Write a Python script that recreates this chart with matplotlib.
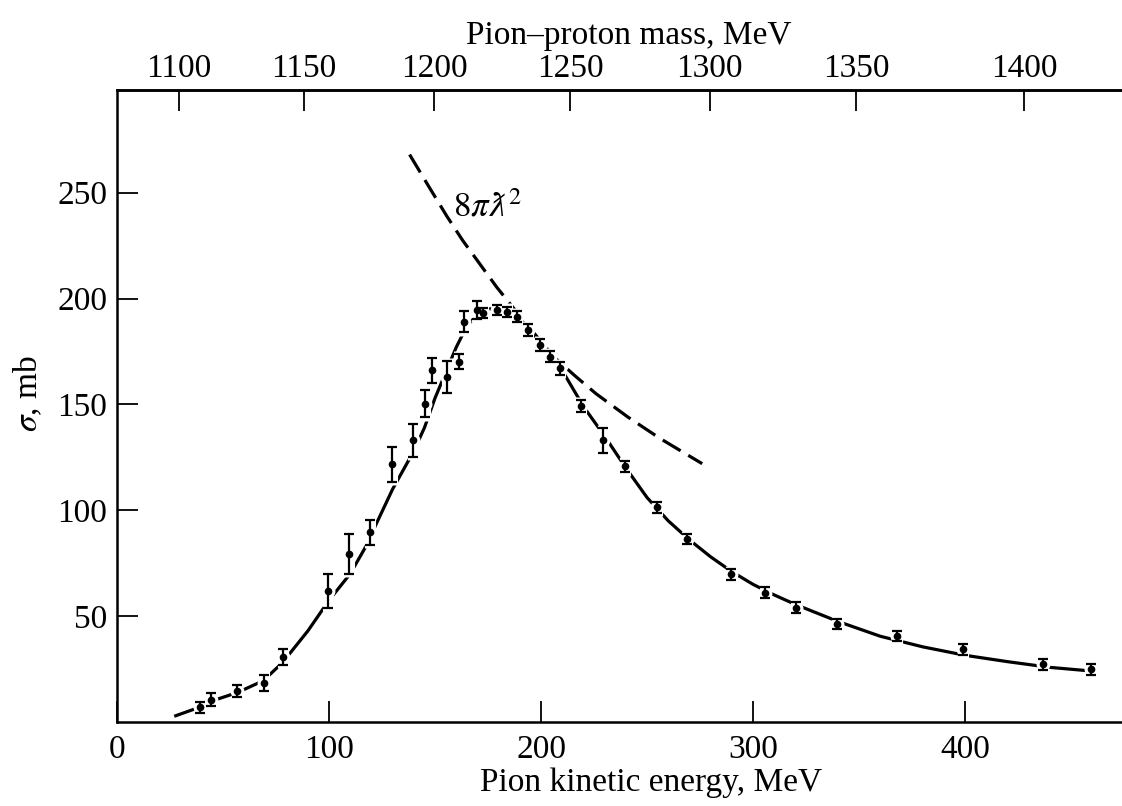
import numpy as np
import matplotlib
matplotlib.use('Agg')
import matplotlib.pyplot as plt
from matplotlib.mathtext import MathTextParser

plt.rcParams['font.family'] = ['Liberation Serif', 'DejaVu Serif']
plt.rcParams['mathtext.fontset'] = 'stix'

# measured points: pion kinetic energy (MeV), cross section (mb), error (mb)
T_data = [39.2, 44.3, 56.8, 69.3, 78.1, 99.7, 109.6, 119.3, 129.9, 139.8,
          145.5, 148.7, 155.5, 161.3, 163.7, 169.7, 172.8, 179.1, 183.8, 188.5,
          194.0, 199.5, 204.2, 209.0, 218.8, 229.1, 239.6, 254.6, 269.0, 289.6,
          305.7, 320.1, 339.8, 367.8, 399.2, 436.6, 459.4]
sigma_data = [7.0, 10.6, 14.8, 18.5, 30.6, 61.9, 79.3, 89.6, 121.7, 133.0,
              150.4, 166.2, 163.0, 170.1, 189.1, 194.6, 193.0, 194.6, 193.8, 191.5,
              185.2, 178.1, 172.5, 167.0, 149.2, 133.0, 120.7, 101.4, 86.4, 69.8,
              61.1, 54.0, 46.2, 40.6, 34.3, 27.2, 24.8]
sigma_err = [2.6, 3.2, 2.8, 3.9, 3.7, 7.9, 9.5, 5.9, 8.3, 7.9,
             6.5, 5.9, 7.5, 3.6, 5.1, 4.3, 2.4, 2.4, 2.4, 2.5,
             2.8, 2.8, 2.5, 3.0, 3.0, 5.8, 2.8, 2.5, 2.5, 2.5,
             2.5, 2.5, 2.5, 2.5, 2.5, 2.5, 2.5]

# smooth curve through the data
curve_T = [27, 39, 45, 57, 69, 78, 90, 100, 110, 118, 122, 130, 140, 145, 150,
           155, 160, 165, 170, 175, 180, 185, 190, 195, 200, 210, 220, 230, 240,
           250, 260, 270, 280, 290, 300, 310, 320, 330, 340, 360, 380, 400, 420,
           440, 457]
curve_sigma = [2.7, 7, 10, 14, 19.5, 28, 43, 57.5, 70, 84, 93, 110, 128, 139, 153,
               165, 177, 187, 192.5, 195, 195.5, 194, 190.5, 185, 179, 166, 149, 135, 120,
               106, 95, 86, 78, 71, 65, 60, 55.5, 51.5, 47.5, 40.5, 35.5, 31.5, 28.5,
               25.8, 24.3]

# 8 pi lambda-bar^2 curve (dashed)
unit_T = [138, 147, 155.5, 163, 171, 179, 187, 196, 206, 216, 226, 241, 256, 266, 276]
unit_sigma = [268, 253, 239, 227.5, 216.5, 205.5, 195.5, 184.5, 172.5, 163.5, 155,
              144, 134, 128, 122]

# top axis: pion-proton mass ticks and where they sit on the energy scale
mass_labels = [1100, 1150, 1200, 1250, 1300, 1350, 1400]
mass_pos_T = [29.2, 88.2, 149.5, 213.7, 279.5, 348.6, 427.8]

fig = plt.figure(figsize=(11.22, 8.06), dpi=100)
ax = fig.add_axes([117 / 1122, 1 - 722 / 806, 1 - 117 / 1122, (722 - 90) / 806])

ax.plot(curve_T, curve_sigma, color='black', lw=2.3, solid_capstyle='butt', zorder=2)
ax.plot(unit_T, unit_sigma, color='black', lw=2.3, dashes=(6.5, 2.8), zorder=2)

# white halo so the curve looks broken at each point
ax.errorbar(T_data, sigma_data, yerr=np.array(sigma_err) + 1.5, fmt='o', ms=9,
            color='white', ecolor='white', elinewidth=8, capsize=0, zorder=2.5)
ax.errorbar(T_data, sigma_data, yerr=sigma_err, fmt='o', ms=4.5, color='black',
            ecolor='black', elinewidth=1.6, capsize=3.3, capthick=1.6, zorder=3)

label = r'$8\pi\lambdabar^{2}$'
try:
    MathTextParser('path').parse(label)
except Exception:
    label = r'$8\pi$ƛ$^{2}$'
ax.text(175, 243, label, fontsize=25, ha='center', va='center')

ax.set_xlim(0, 474)
ax.set_ylim(0, 298.5)
ax.set_xticks([0, 100, 200, 300, 400])
ax.set_yticks([50, 100, 150, 200, 250])
ax.tick_params(direction='in', length=15, width=1.3, labelsize=24, pad=9)
ax.tick_params(axis='y', pad=7)
ax.spines['right'].set_visible(False)
for s in ['left', 'bottom', 'top']:
    ax.spines[s].set_linewidth(1.8)

ax.set_xlabel('Pion kinetic energy, MeV', fontsize=24)
ax.xaxis.set_label_coords(0.531, -0.072)
ax.set_ylabel(r'$\sigma$, mb', fontsize=24)
ax.yaxis.set_label_coords(-0.072, 0.52)

top = ax.twiny()
top.set_xlim(ax.get_xlim())
top.set_xticks(mass_pos_T)
top.set_xticklabels([str(m) for m in mass_labels])
top.tick_params(direction='in', length=15, width=1.3, labelsize=24, pad=4)
for s in ['left', 'right', 'bottom']:
    top.spines[s].set_visible(False)
top.spines['top'].set_linewidth(1.8)
top.set_xlabel('Pion–proton mass, MeV', fontsize=24)
top.xaxis.set_label_coords(0.509, 1.072)

fig.savefig('out.png', dpi=100)
